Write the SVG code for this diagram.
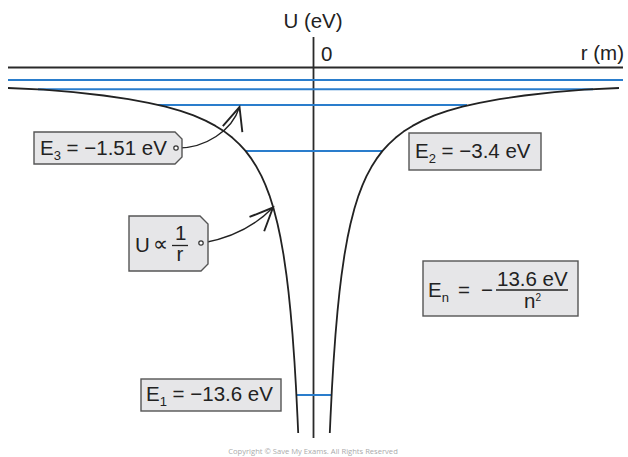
<svg xmlns="http://www.w3.org/2000/svg" width="628" height="457" viewBox="0 0 628 457">
<style>
.ax{stroke:#2a2a2a;stroke-width:1.8;fill:none}
.cv{stroke:#222;stroke-width:1.8;fill:none;stroke-linejoin:round}
.lv{stroke:#2a7dcc;stroke-width:2;fill:none}
.box{fill:#e6e6e8;stroke:#555;stroke-width:1.4}
.t{font-family:"Liberation Sans",Arial,sans-serif;font-size:20.5px;fill:#222}
.s{font-size:13px;fill:#222}
.con{stroke:#222;stroke-width:1.4;fill:none}
.dot{fill:#fff;stroke:#333;stroke-width:1.2}
</style>
<defs>
<marker id="arr" markerUnits="userSpaceOnUse" markerWidth="30" markerHeight="30" refX="0" refY="0" viewBox="-20 -10 22 20" orient="auto" overflow="visible">
<path d="M-17,-7.5 L0,0 L-17,7.5" fill="none" stroke="#222" stroke-width="1.4"/>
</marker>
</defs>
<rect width="628" height="457" fill="#fff"/>

<g id="axes">
<line class="ax" x1="8" y1="67.5" x2="623" y2="67.5"/>
<line class="ax" x1="313.5" y1="37" x2="313.5" y2="438"/>
<text class="t" x="313" y="28" text-anchor="middle" font-size="18">U (eV)</text>
<text class="t" x="321" y="61" font-size="18">0</text>
<text class="t" x="624" y="60" text-anchor="end" font-size="16">r (m)</text>
</g>

<g id="levels">
<line class="lv" x1="8" y1="80" x2="623" y2="80"/>
<line class="lv" x1="38" y1="89.3" x2="593" y2="89.3"/>
<line class="lv" x1="158" y1="105" x2="467" y2="105"/>
<line class="lv" x1="246" y1="151" x2="383" y2="151"/>
<line class="lv" x1="297" y1="395" x2="331" y2="395"/>
</g>

<g id="curve">
<path class="cv" d="M8,88 L43.5,89.6 L73.5,92.2 L103.5,95.5 L128.5,99.1 L148.5,102.8 L165.5,106.6 L180.5,110.9 L193.5,115.4 L205.5,120.6 L215.5,125.9 L224.5,131.6 L232.5,137.8 L239.5,144.3 L245.5,150.9 L251.5,158.9 L256.5,166.8 L261.5,176.2 L265.5,185.1 L269.5,195.6 L273.5,208.3 L277.5,223.8 L280.5,237.8 L283.5,254.7 L286.5,275.4 L288.5,291.9 L290.5,311.3 L292.5,334.3 L294.5,362.3 L296,387.4 L297.5,417.3 L298.2,433"/>
<path class="cv" d="M619,88 L584.5,89.6 L554.5,92.2 L524.5,95.5 L499.5,99.1 L479.5,102.8 L462.5,106.6 L447.5,110.9 L434.5,115.4 L422.5,120.6 L412.5,125.9 L403.5,131.6 L395.5,137.8 L388.5,144.3 L382.5,150.9 L376.5,158.9 L371.5,166.8 L366.5,176.2 L362.5,185.1 L358.5,195.6 L354.5,208.3 L350.5,223.8 L347.5,237.8 L344.5,254.7 L341.5,275.4 L339.5,291.9 L337.5,311.3 L335.5,334.3 L333.5,362.3 L332,387.4 L330.5,417.3 L329.8,433"/>
</g>

<g id="connectors">
<path class="con" d="M178,148 C205,148 232,131 239.5,107" marker-end="url(#arr)"/>
<path class="con" d="M203,243 C230,238 255,226 273,207.5" marker-end="url(#arr)"/>
</g>

<g id="node-e3">
<path class="box" d="M34,132 H175 L182,139 V157 L175,164 H34 Z"/>
<text class="t" x="40" y="155">E<tspan class="s" dy="5">3</tspan><tspan dy="-5"> = −1.51 eV</tspan></text>
<circle class="dot" cx="176" cy="148" r="2.2"/>
</g>

<g id="node-u">
<path class="box" d="M129,216 H200 L208,224 V264 L201,271 H129 Z"/>
<text class="t" x="135" y="252">U</text>
<text class="t" x="153" y="251">∝</text>
<text class="t" x="175" y="240" font-size="15">1</text>
<line x1="172" y1="245.5" x2="188" y2="245.5" stroke="#222" stroke-width="1.3"/>
<text class="t" x="176.5" y="261" font-size="16">r</text>
<circle class="dot" cx="201" cy="243" r="2.2"/>
</g>

<g id="node-e2">
<rect class="box" x="409" y="133" width="132" height="37"/>
<text class="t" x="415" y="158">E<tspan class="s" dy="5">2</tspan><tspan dy="-5"> = −3.4 eV</tspan></text>
</g>

<g id="node-en">
<rect class="box" x="423" y="261" width="155" height="55"/>
<text class="t" x="428" y="297">E<tspan class="s" dy="5">n</tspan></text>
<text class="t" x="458" y="297">=</text>
<text class="t" x="481" y="297">−</text>
<text class="t" x="497" y="286">13.6 eV</text>
<line x1="496" y1="290" x2="568" y2="290" stroke="#222" stroke-width="1.3"/>
<text class="t" x="524" y="308" font-size="16">n<tspan font-size="10" dy="-7" fill="#222">2</tspan></text>
</g>

<g id="node-e1">
<rect class="box" x="141" y="379" width="140" height="32"/>
<text class="t" x="146" y="401">E<tspan class="s" dy="5">1</tspan><tspan dy="-5"> = −13.6 eV</tspan></text>
</g>

<text x="313" y="454" text-anchor="middle" font-family="'Open Sans','Liberation Sans',sans-serif" font-size="7.6" fill="#aaa">Copyright © Save My Exams. All Rights Reserved</text>
</svg>
